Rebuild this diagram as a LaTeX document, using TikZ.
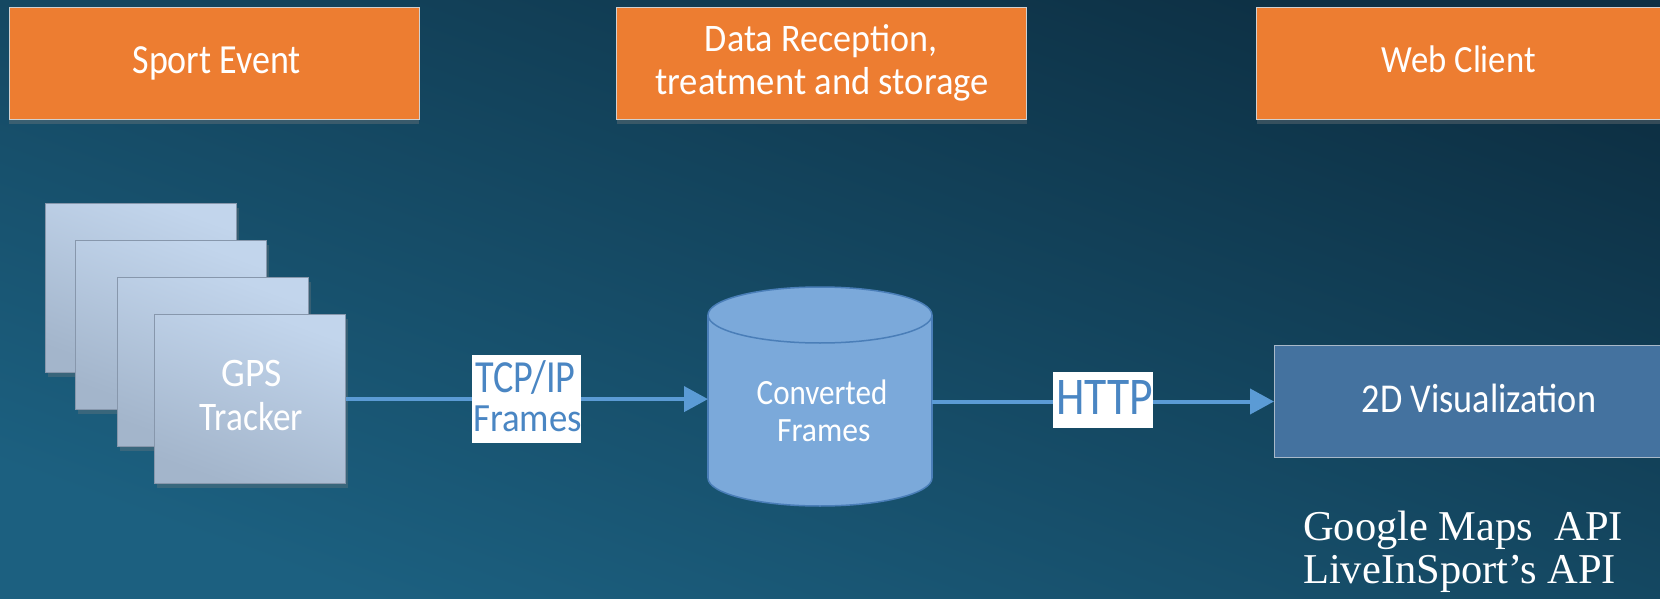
\documentclass[tikz,border=0pt]{standalone}
\usepackage{fontspec}
\usepackage{graphicx}
\setmainfont{Carlito}
\newfontfamily\timesf{Liberation Serif}
\usetikzlibrary{arrows.meta,shadows}
\definecolor{bgtop}{HTML}{0D3044}
\definecolor{bgbot}{HTML}{1C6080}
\definecolor{orangefill}{HTML}{ED7D31}
\definecolor{boxline}{HTML}{D0D0D0}
\definecolor{gpstop}{HTML}{C2D5EC}
\definecolor{gpsbot}{HTML}{A3B5CB}
\definecolor{gpsline}{HTML}{8797AC}
\definecolor{cylfill}{HTML}{7BA9DA}
\definecolor{cylline}{HTML}{4A7EB8}
\definecolor{arrowblue}{HTML}{5B9BD5}
\definecolor{lbltext}{HTML}{4A86C3}
\definecolor{vizfill}{HTML}{44729F}
\definecolor{vizline}{HTML}{A9B9C9}
\newcommand{\hsq}[2]{\scalebox{#1}[1]{#2}}
\begin{document}
\begin{tikzpicture}[x=1pt,y=-1pt,
  orangebox/.style={draw=boxline, line width=1pt, fill=orangefill, minimum width=410pt, minimum height=112pt, inner sep=0pt, anchor=north west, drop shadow={shadow xshift=0pt, shadow yshift=-4pt, opacity=0.35}},
  gpsbox/.style={draw=gpsline, line width=1.2pt, top color=gpstop, bottom color=gpsbot, shading angle=-20, minimum width=191pt, minimum height=169pt, inner sep=0pt, anchor=north west, drop shadow={shadow xshift=2pt, shadow yshift=-4pt, opacity=0.3}},
  whitetxt/.style={text=white, anchor=base, inner sep=0pt},
  bluetxt/.style={text=lbltext, anchor=base, inner sep=0pt},
  lblbox/.style={fill=white, inner sep=0pt},
  flow/.style={draw=arrowblue, line width=4pt, -{Triangle[length=24pt,width=25pt]}},
  vizbox/.style={draw=vizline, line width=1pt, fill=vizfill, minimum width=410pt, minimum height=112pt, inner sep=0pt, anchor=north west},
  apitxt/.style={text=white, anchor=base west, inner sep=0pt, font=\timesf\fontsize{42.5}{43}\selectfont}
]
\useasboundingbox (0,0) rectangle (1660,599);
\clip (0,0) rectangle (1660,599);
\shade[top color=bgtop, bottom color=bgbot, shading angle=-20] (0,0) rectangle (1660,599);

% header boxes
\node[orangebox] (hsport) at (8.5,7.4) {};
\node[orangebox] (hdata) at (616,7.4) {};
\node[orangebox] (hweb) at (1256,7.4) {};
\node[whitetxt] (tsport) at (216.7,73.3) {\fontsize{41.4}{41}\selectfont\hsq{0.87}{Sport Event}};
\node[whitetxt] (tdata1) at (821,51.7) {\fontsize{39}{39}\selectfont\hsq{0.925}{Data Reception,}};
\node[whitetxt] (tdata2) at (822,95) {\fontsize{39}{39}\selectfont\hsq{0.94}{treatment and storage}};
\node[whitetxt] (tweb) at (1458.7,72.7) {\fontsize{38.5}{38}\selectfont\hsq{0.90}{Web Client}};

% GPS tracker stack
\node[gpsbox] (gps1) at (45,203) {};
\node[gpsbox] (gps2) at (75,240) {};
\node[gpsbox] (gps3) at (117,277) {};
\node[gpsbox] (gps4) at (154,314) {};
\node[whitetxt] (tgps1) at (251.7,386.7) {\fontsize{40.5}{40}\selectfont\hsq{0.93}{GPS}};
\node[whitetxt] (tgps2) at (251.5,430.7) {\fontsize{40.5}{40}\selectfont\hsq{0.87}{Tracker}};

% cylinder
\node[minimum width=224pt, minimum height=219pt, inner sep=0pt, anchor=north west] (cyl) at (708,287) {};
\fill[cylfill] (708,315) rectangle (932,478);
\fill[cylfill] (820,478) ellipse [x radius=112pt, y radius=28pt];
\begin{scope}
  \clip (700,478) rectangle (940,515);
  \draw[cylline, line width=1.5pt] (820,478) ellipse [x radius=112pt, y radius=28pt];
\end{scope}
\draw[cylline, line width=1.5pt] (708,315) -- (708,478);
\draw[cylline, line width=1.5pt] (932,315) -- (932,478);
\filldraw[fill=cylfill, draw=cylline, line width=1.5pt] (820,315) ellipse [x radius=112pt, y radius=28pt];
\node[whitetxt] (tcyl1) at (822,404.3) {\fontsize{35.5}{35}\selectfont\hsq{0.875}{Converted}};
\node[whitetxt] (tcyl2) at (823.7,441.7) {\fontsize{34}{34}\selectfont\hsq{0.93}{Frames}};

% visualization box
\node[vizbox] (viz) at (1274,345) {};
\node[whitetxt] (tviz) at (1479,412) {\fontsize{41}{41}\selectfont\hsq{0.885}{2D Visualization}};

% connectors
\draw[flow] (gps4.east) -- (gps4.east -| cyl.west);
\draw[flow] (cyl.east |- viz.west) -- (viz.west);

% connector labels
\node[lblbox, minimum width=109pt, minimum height=88pt] (ltcp) at (526.5,399) {};
\node[bluetxt] (ltcp1) at (525.5,392) {\fontsize{46}{46}\selectfont\hsq{0.83}{TCP/IP}};
\node[bluetxt] (ltcp2) at (527.5,431) {\fontsize{40}{40}\selectfont\hsq{0.92}{Frames}};
\node[lblbox, minimum width=100pt, minimum height=56pt] (lhttp) at (1103,400) {};
\node[bluetxt] (lhttp1) at (1105,414) {\fontsize{53}{53}\selectfont\hsq{0.86}{HTTP}};

% API text
\node[apitxt] (api1) at (1303,540) {Google Maps\ \ API};
\node[apitxt] (api2) at (1303,583) {LiveInSport’s API};
\end{tikzpicture}
\end{document}
